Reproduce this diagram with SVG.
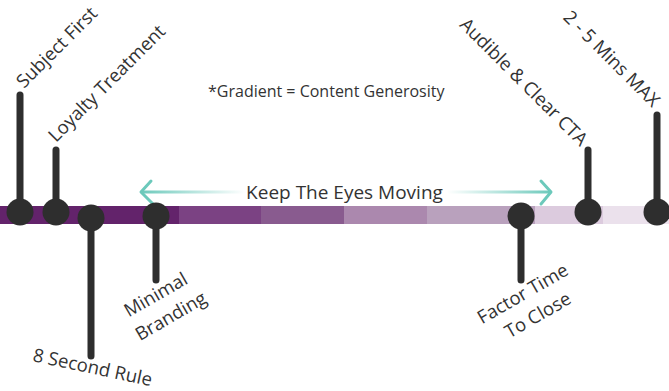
<svg xmlns="http://www.w3.org/2000/svg" width="669" height="391" viewBox="0 0 669 391">
  <defs>
    <style>
      .lbl { font-family: "Open Sans", "Liberation Sans", sans-serif; font-size: 18.5px; fill: #333333; }
      .cap { font-family: "Open Sans", "Liberation Sans", sans-serif; font-size: 19px; fill: #333333; }
      .note { font-family: "Open Sans", "Liberation Sans", sans-serif; font-size: 16px; fill: #333333; }
      .stem { stroke: #2e2e2e; stroke-width: 7; stroke-linecap: round; fill: none; }
      .dot { fill: #2e2e2e; }
      .head { stroke: #6cc9bb; stroke-width: 3; fill: none; stroke-linecap: round; stroke-linejoin: round; }
    </style>
    <linearGradient id="fadeL" x1="140" y1="0" x2="245" y2="0" gradientUnits="userSpaceOnUse">
      <stop offset="0" stop-color="#6cc9bb" stop-opacity="1"/>
      <stop offset="1" stop-color="#6cc9bb" stop-opacity="0"/>
    </linearGradient>
    <linearGradient id="fadeR" x1="552" y1="0" x2="447" y2="0" gradientUnits="userSpaceOnUse">
      <stop offset="0" stop-color="#6cc9bb" stop-opacity="1"/>
      <stop offset="1" stop-color="#6cc9bb" stop-opacity="0"/>
    </linearGradient>
  </defs>

  <rect width="669" height="391" fill="#ffffff"/>

  <!-- timeline bar, darkest to lightest -->
  <g id="bar">
    <rect x="0" y="206" width="180" height="18" fill="#63236b"/>
    <rect x="179" y="206" width="83" height="18" fill="#7b4283"/>
    <rect x="261" y="206" width="84" height="18" fill="#895b8f"/>
    <rect x="344" y="206" width="84" height="18" fill="#ab88ae"/>
    <rect x="427" y="206" width="110" height="18" fill="#b9a1bd"/>
    <rect x="535" y="206" width="69" height="18" fill="#dccbde"/>
    <rect x="603" y="206" width="66" height="18" fill="#ebe1ec"/>
  </g>

  <!-- two-way arrow around the caption -->
  <g id="connectors">
    <line x1="141" y1="192" x2="245" y2="192" stroke="url(#fadeL)" stroke-width="3"/>
    <polyline class="head" points="151,181 141,192 153,204"/>
    <line x1="447" y1="192" x2="551" y2="192" stroke="url(#fadeR)" stroke-width="3"/>
    <polyline class="head" points="541,181 551,192 541,204"/>
  </g>

  <text class="note" x="208" y="97">*Gradient = Content Generosity</text>
  <text class="cap" x="344.5" y="199" text-anchor="middle">Keep The Eyes Moving</text>

  <g id="subject-first">
    <line class="stem" x1="20" y1="95" x2="20" y2="212"/>
    <circle class="dot" cx="20" cy="212" r="13.5"/>
    <text class="lbl" transform="translate(24,89) rotate(-45)">Subject First</text>
  </g>

  <g id="loyalty-treatment">
    <line class="stem" x1="56" y1="150" x2="56" y2="212"/>
    <circle class="dot" cx="56" cy="212" r="13.5"/>
    <text class="lbl" transform="translate(56,143) rotate(-45)">Loyalty Treatment</text>
  </g>

  <g id="eight-second-rule">
    <line class="stem" x1="91" y1="218" x2="91" y2="356"/>
    <circle class="dot" cx="91" cy="218" r="13.5"/>
    <text class="lbl" transform="translate(32,361) rotate(12)">8 Second Rule</text>
  </g>

  <g id="minimal-branding">
    <line class="stem" x1="156" y1="216" x2="156" y2="280"/>
    <circle class="dot" cx="156" cy="216" r="13.5"/>
    <text class="lbl" text-anchor="middle" transform="translate(161,299) rotate(-30)">
      <tspan x="0" y="0">Minimal</tspan>
      <tspan x="0" y="26">Branding</tspan>
    </text>
  </g>

  <g id="factor-time">
    <line class="stem" x1="521" y1="216" x2="521" y2="280"/>
    <circle class="dot" cx="521" cy="216" r="13.5"/>
    <text class="lbl" text-anchor="middle" transform="translate(528,298) rotate(-30)">
      <tspan x="0" y="0">Factor Time</tspan>
      <tspan x="0" y="26">To Close</tspan>
    </text>
  </g>

  <g id="audible-cta">
    <line class="stem" x1="588" y1="150" x2="588" y2="212"/>
    <circle class="dot" cx="588" cy="212" r="13.5"/>
    <text class="lbl" text-anchor="end" transform="translate(580,147) rotate(45)">Audible &amp; Clear CTA</text>
  </g>

  <g id="max-length">
    <line class="stem" x1="657" y1="115" x2="657" y2="212"/>
    <circle class="dot" cx="657" cy="212" r="13.5"/>
    <text class="lbl" text-anchor="end" transform="translate(652,108) rotate(45)">2 - 5 Mins MAX</text>
  </g>
</svg>
